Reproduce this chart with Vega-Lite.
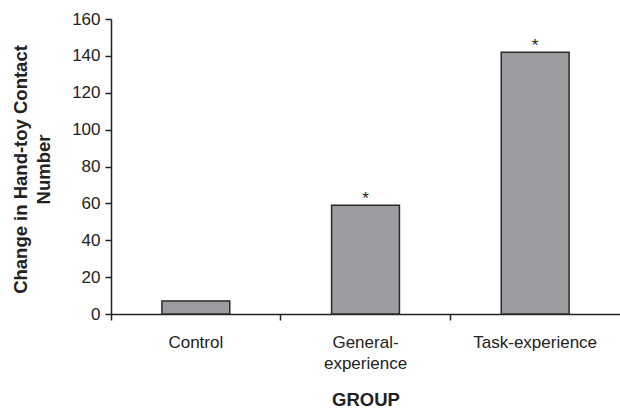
{
  "$schema": "https://vega.github.io/schema/vega-lite/v6.json",
  "autosize": "none",
  "width": 509,
  "height": 295,
  "padding": {"left": 111, "top": 19, "right": 0, "bottom": 94},
  "background": "white",
  "config": {
    "view": {"stroke": null},
    "font": "Liberation Sans",
    "axis": {"grid": false, "domainColor": "#222", "domainWidth": 1.5, "tickColor": "#222", "tickWidth": 1.5, "labelColor": "#222", "labelFontSize": 17, "titleColor": "#222", "titleFontSize": 18.5, "titleFontWeight": "bold", "labelFont": "Liberation Sans", "titleFont": "Liberation Sans", "labelOverlap": false}
  },
  "data": {"values": [
    {"group": "Control", "change": 7, "sig": ""},
    {"group": "General-experience", "change": 59, "sig": "*"},
    {"group": "Task-experience", "change": 142, "sig": "*"}
  ]},
  "encoding": {
    "x": {"field": "group", "type": "nominal", "sort": null,
      "scale": {"paddingInner": 0, "paddingOuter": 0},
      "axis": {"title": "GROUP", "labelAngle": 0, "bandPosition": 0, "tickSize": 6, "labelPadding": 14, "labelLineHeight": 21,
        "labelExpr": "datum.value == 'General-experience' ? ['General-', 'experience'] : datum.value",
        "titleY": 85, "titleBaseline": "middle"}},
    "y": {"field": "change", "type": "quantitative",
      "scale": {"domain": [0, 160]},
      "axis": {"title": ["Change in Hand-toy Contact", "Number"], "values": [0, 20, 40, 60, 80, 100, 120, 140, 160], "tickCount": 9, "labelOverlap": false, "tickSize": 6, "labelPadding": 5, "titleX": -91, "titleY": 150, "titleBaseline": "middle", "titleLineHeight": 23}}
  },
  "layer": [
    {
      "mark": {"type": "bar", "width": {"band": 0.4}, "fill": "#9b9ca0", "stroke": "#2a2a2a", "strokeWidth": 1.5}
    },
    {
      "mark": {"type": "text", "dy": -1, "fontSize": 17, "color": "#222", "baseline": "alphabetic"},
      "encoding": {"text": {"field": "sig"}}
    },
    {
      "mark": {"type": "rule", "color": "#222", "strokeWidth": 1.5},
      "encoding": {"x": {"value": 0}, "x2": {"signal": "width"}, "y": {"datum": 160, "type": "quantitative"}}
    }
  ]
}
